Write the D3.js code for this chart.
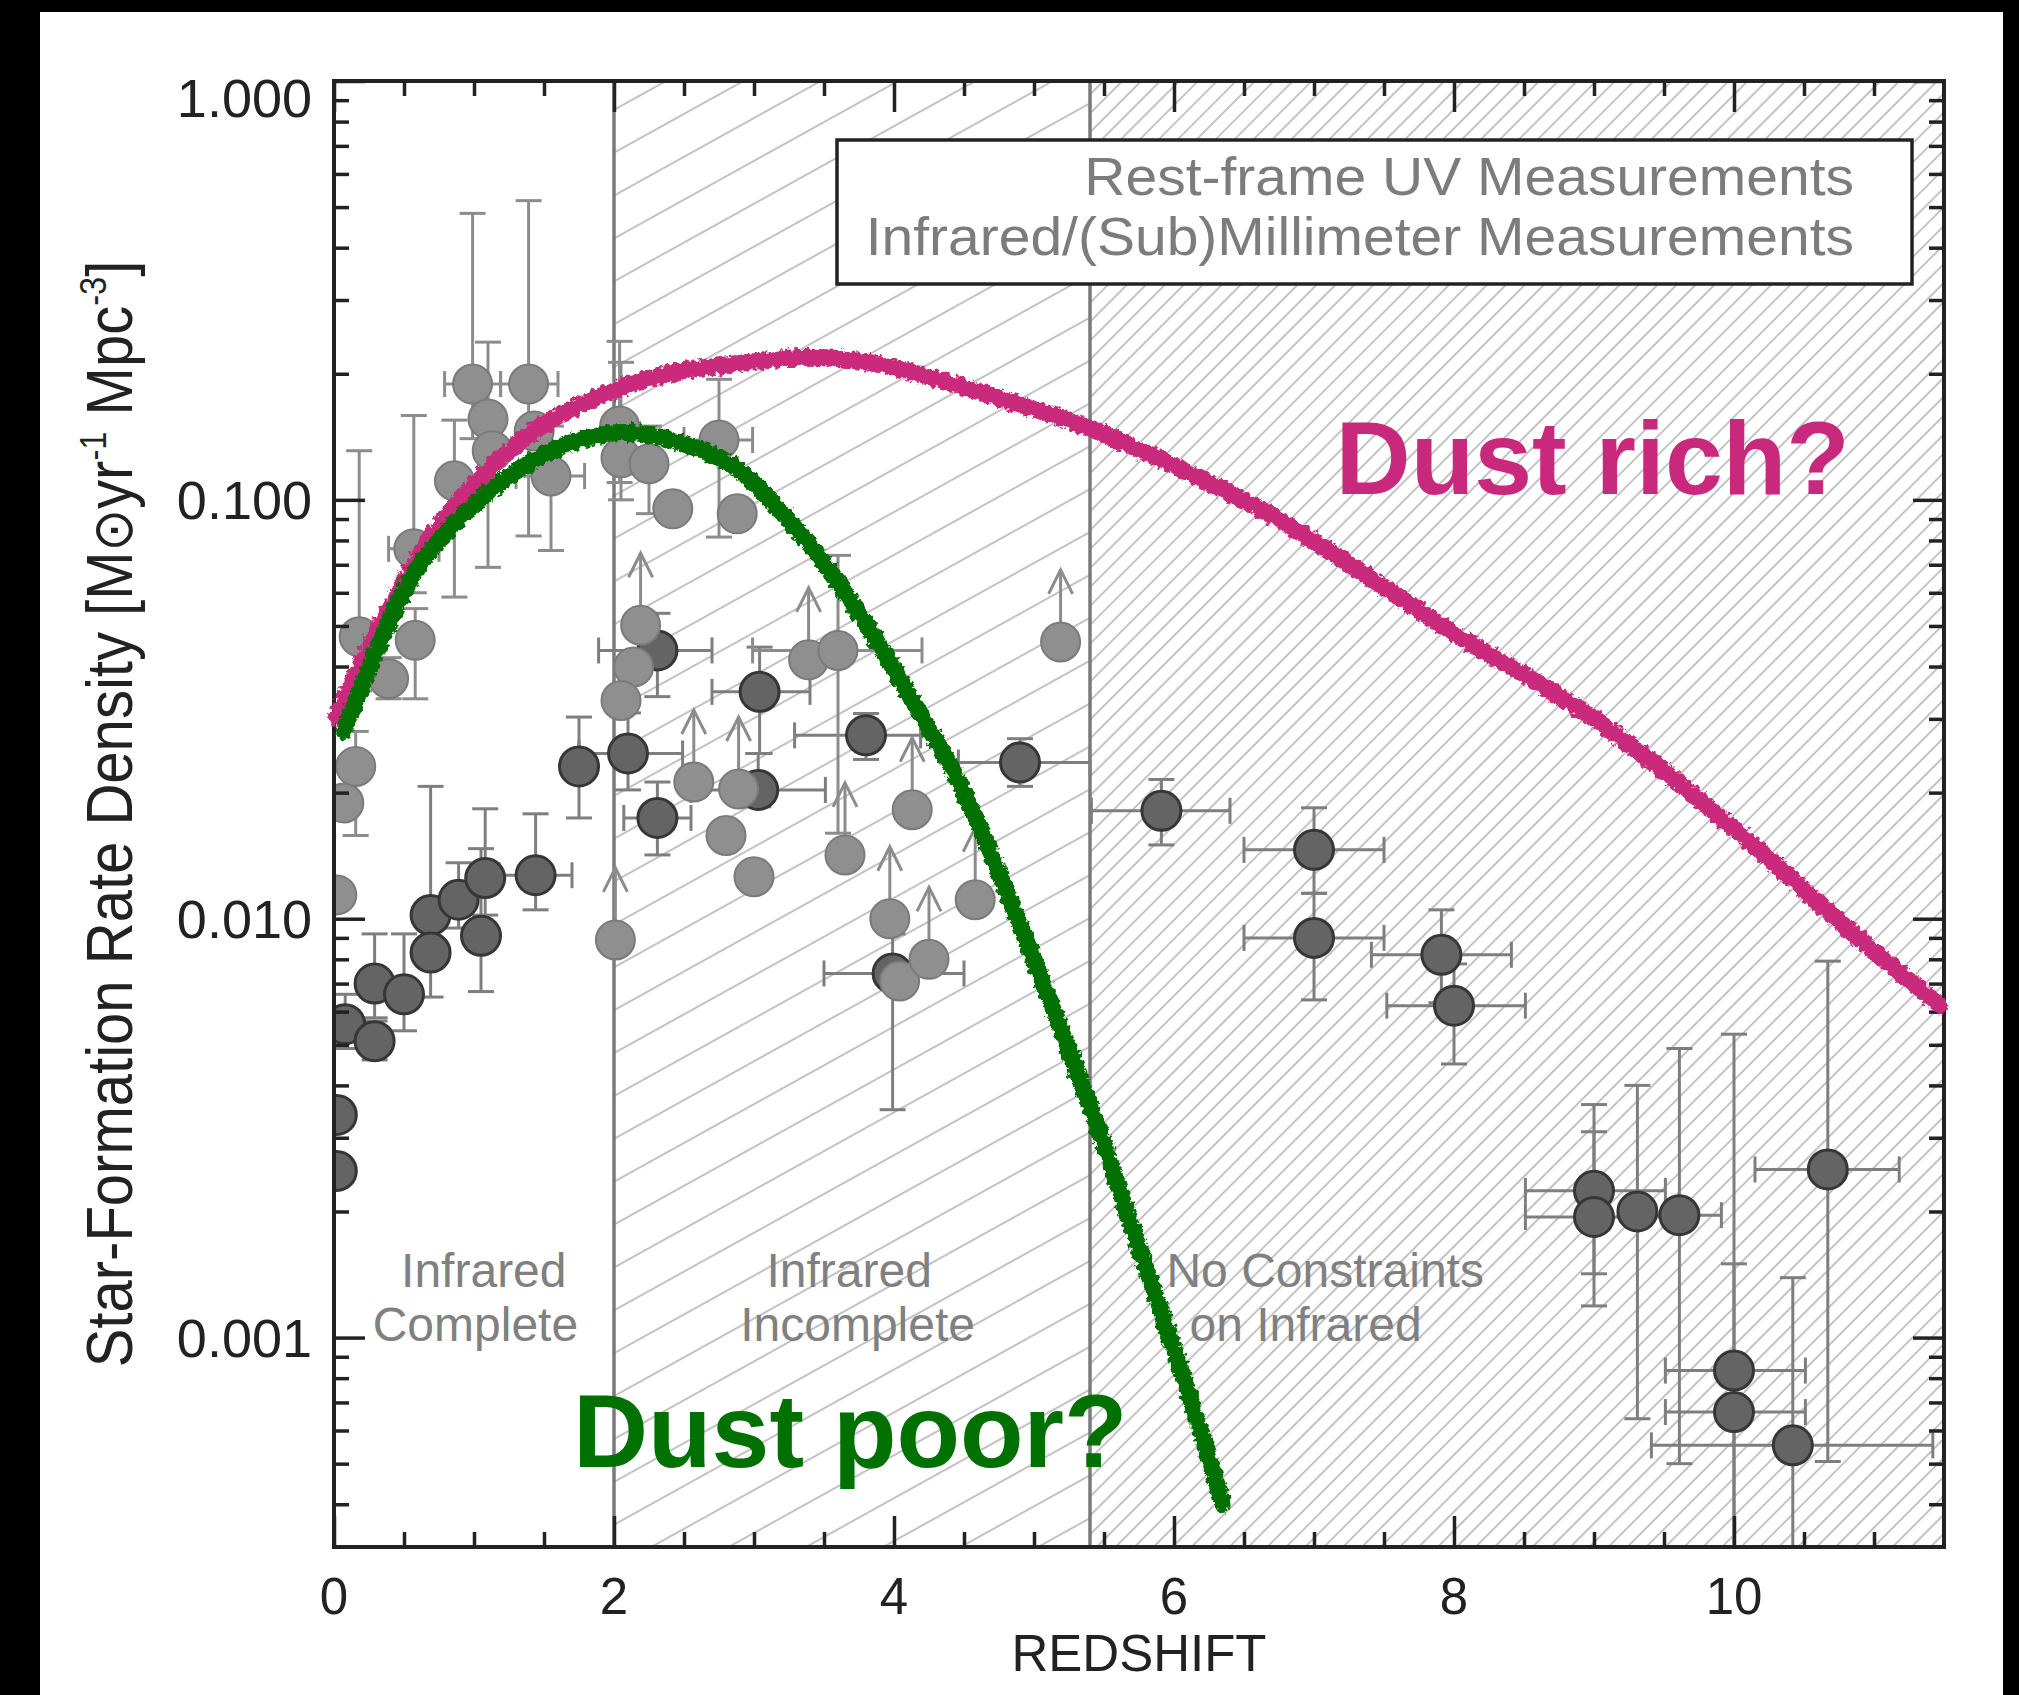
<!DOCTYPE html>
<html>
<head>
<meta charset="utf-8">
<script src="https://cdn.jsdelivr.net/npm/d3@7"></script>
<style>
  html, body { margin: 0; padding: 0; background: #fff; }
  svg { display: block; }
</style>
</head>
<body>
<svg id="chart" width="2019" height="1695"></svg>
<script>
// ---- Axis ticks -------------------------------------------------------
const xTicks = [0, 2, 4, 6, 8, 10];
const xTickLabels = ["0", "2", "4", "6", "8", "10"];
const yTicks = [0.001, 0.01, 0.1, 1];
const yTickLabels = ["0.001", "0.010", "0.100", "1.000"];

// Redshift boundaries of the infrared-coverage regimes
const regionEdges = [2, 5.4];

// Rest-frame UV measurements: [z, SFRD, zLo, zHi, SFRDlo, SFRDhi]
const uvPoints = [
  [0.02, 0.0034, null, null, null, null],
  [0.02, 0.0025, null, null, null, null],
  [0.08, 0.0056, null, null, 0.0049, 0.0066],
  [0.29, 0.0051, null, null, 0.0046, 0.0057],
  [0.29, 0.0070, null, null, 0.0058, 0.0092],
  [0.50, 0.0066, null, null, 0.0054, 0.0092],
  [0.69, 0.0102, null, null, 0.0085, 0.0207],
  [0.69, 0.0083, null, null, 0.0065, 0.0098],
  [0.89, 0.0111, null, null, 0.0095, 0.0136],
  [1.05, 0.0091, null, null, 0.0067, 0.0147],
  [1.08, 0.0125, null, null, 0.0102, 0.0183],
  [1.44, 0.0127, 1.18, 1.70, 0.0105, 0.0178],
  [1.75, 0.0231, null, null, 0.0174, 0.0303],
  [2.10, 0.0248, 1.75, 2.49, 0.0203, 0.0310],
  [2.31, 0.0174, 2.07, 2.55, 0.0142, 0.0212],
  [2.31, 0.0437, 1.89, 2.70, 0.0339, 0.0536],
  [3.04, 0.0348, 2.70, 3.40, 0.0248, 0.0445],
  [3.03, 0.0203, 2.55, 3.51, 0.0185, 0.0248],
  [3.80, 0.0274, 3.29, 4.19, 0.0240, 0.0309],
  [3.99, 0.0074, 3.50, 4.50, 0.0035, 0.0092],
  [4.90, 0.0236, 4.46, 5.40, 0.0207, 0.0269],
  [5.91, 0.0181, 5.41, 6.40, 0.0150, 0.0215],
  [7.00, 0.0146, 6.50, 7.50, 0.0115, 0.0184],
  [7.00, 0.0090, 6.50, 7.50, 0.0064, 0.0115],
  [7.91, 0.0082, 7.41, 8.41, 0.0063, 0.0105],
  [8.00, 0.0062, 7.52, 8.51, 0.0045, 0.0078],
  [9.00, 0.00224, 8.51, 9.51, 0.00142, 0.0036],
  [9.00, 0.00194, 8.51, 9.51, 0.00119, 0.0031],
  [9.31, 0.00200, null, null, 0.00064, 0.0040],
  [9.61, 0.00196, 9.30, 9.91, 0.00050, 0.0049],
  [10.00, 0.000834, 9.51, 10.51, 0.0002, 0.0053],
  [10.00, 0.000664, 9.51, 10.51, 0.0002, 0.0015],
  [10.42, 0.000553, 9.41, 11.42, 0.0002, 0.00139],
  [10.67, 0.00252, 10.15, 11.18, 0.000506, 0.00792]
];

// Infrared/(sub)millimeter measurements: [z, SFRD, zLo, zHi, SFRDlo, SFRDhi, lowerLimit]
const irPoints = [
  [0.02, 0.0114, null, null, null, null, 0],
  [0.07, 0.0189, null, null, null, null, 0],
  [0.155, 0.0231, null, null, 0.0158, 0.028, 0],
  [0.18, 0.0471, null, null, 0.035, 0.131, 0],
  [0.39, 0.0374, null, null, 0.0335, 0.042, 0],
  [0.57, 0.0764, 0.39, 0.75, 0.060, 0.159, 0],
  [0.58, 0.0462, null, null, 0.0335, 0.055, 0],
  [0.86, 0.111, null, null, 0.0586, 0.155, 0],
  [0.99, 0.189, 0.79, 1.19, 0.14, 0.483, 0],
  [1.10, 0.156, null, null, 0.069, 0.238, 0],
  [1.13, 0.131, null, null, null, null, 0],
  [1.39, 0.189, 1.19, 1.60, 0.082, 0.518, 0],
  [1.43, 0.146, null, null, null, null, 0],
  [1.55, 0.114, 1.30, 1.79, 0.0757, 0.150, 0],
  [2.04, 0.150, null, null, 0.110, 0.239, 0],
  [2.05, 0.126, null, null, 0.100, 0.213, 0],
  [2.25, 0.122, 2.00, 2.30, 0.0927, 0.150, 0],
  [2.42, 0.0952, null, null, null, null, 0],
  [2.75, 0.139, 2.50, 2.99, 0.0815, 0.194, 0],
  [2.88, 0.0926, null, null, null, null, 0],
  [2.19, 0.0502, null, null, null, null, 1],
  [2.14, 0.0399, null, null, null, null, 0],
  [2.05, 0.0332, null, null, null, null, 0],
  [3.39, 0.0415, null, null, null, null, 1],
  [3.60, 0.0437, 2.99, 4.20, 0.016, 0.0737, 0],
  [5.19, 0.0458, null, null, null, null, 1],
  [2.57, 0.0212, null, null, null, null, 1],
  [2.89, 0.0204, null, null, null, null, 1],
  [2.80, 0.0158, null, null, null, null, 0],
  [3.00, 0.0126, null, null, null, null, 0],
  [3.65, 0.0142, null, null, null, null, 1],
  [4.13, 0.0182, null, null, null, null, 1],
  [3.97, 0.0100, null, null, null, null, 1],
  [4.58, 0.0111, null, null, null, null, 1],
  [4.04, 0.0071, null, null, null, null, 0],
  [4.25, 0.0080, null, null, null, null, 1],
  [2.01, 0.0089, null, null, null, null, 1]
];

// Sketched star-formation histories: [z, SFRD]
const dustRichCurve = [
  [0.02, 0.0303], [0.24, 0.0437], [0.48, 0.062], [0.71, 0.083], [1.07, 0.115],
  [1.43, 0.146], [1.90, 0.177], [2.38, 0.200], [2.86, 0.211], [3.40, 0.219],
  [3.85, 0.212], [4.49, 0.186], [5.40, 0.148], [6.08, 0.117], [6.72, 0.091],
  [7.26, 0.070], [8.00, 0.048], [8.96, 0.0307], [9.91, 0.0174], [10.87, 0.0091],
  [11.47, 0.0062]
];
const dustPoorCurve = [
  [0.07, 0.028], [0.36, 0.048], [0.60, 0.069], [0.95, 0.094], [1.31, 0.1175],
  [1.67, 0.136], [2.10, 0.145], [2.50, 0.136], [2.86, 0.120], [3.19, 0.094],
  [3.45, 0.0744], [3.80, 0.0506], [4.16, 0.032], [4.47, 0.021], [4.71, 0.0138],
  [4.95, 0.0088], [5.41, 0.0035], [5.76, 0.0016], [6.08, 0.00078], [6.35, 0.0004]
];

// Regime labels, two lines each: [line, z of line centre]
const regionLabels = [
  [["Infrared", 1.07], ["Complete", 1.01]],
  [["Infrared", 3.68], ["Incomplete", 3.74]],
  [["No Constraints", 7.08], ["on Infrared", 6.94]]
];
const regionLabelBase = 0.00098;
const legendLabels = ["Rest-frame UV Measurements", "Infrared/(Sub)Millimeter Measurements"];

// ---- Layout ----------------------------------------------------------
const W = 2019, H = 1695;
const plot = { left: 334, right: 1944, top: 81, bottom: 1547 };
const AXIS = "#222";
const MAGENTA = "#c9297c", GREEN = "#007000";

const x = d3.scaleLinear().domain([0, 11.5]).range([plot.left, plot.right]);
const y = d3.scaleLog().domain([Math.pow(10, -3.5), 1]).range([plot.bottom, plot.top]);

const svg = d3.select("#chart");
svg.append("rect").attr("width", W).attr("height", H).attr("fill", "#fff");

const defs = svg.append("defs");
defs.append("clipPath").attr("id", "plotClip")
  .append("rect")
  .attr("x", plot.left).attr("y", plot.top)
  .attr("width", plot.right - plot.left).attr("height", plot.bottom - plot.top);

function hatch(id, angle, gap) {
  const p = defs.append("pattern").attr("id", id)
    .attr("patternUnits", "userSpaceOnUse")
    .attr("width", 40).attr("height", gap)
    .attr("patternTransform", `rotate(${-angle})`);
  p.append("line").attr("x1", 0).attr("x2", 40)
    .attr("y1", gap / 2).attr("y2", gap / 2)
    .attr("stroke", "#c2c2c2").attr("stroke-width", 2);
}
hatch("hatchMid", 29, 37.5);
hatch("hatchHigh", 45, 13.4);

// roughened marker-pen look for the sketched curves
const rough = defs.append("filter").attr("id", "rough")
  .attr("filterUnits", "userSpaceOnUse")
  .attr("x", 0).attr("y", 0).attr("width", W).attr("height", H);
rough.append("feTurbulence").attr("type", "fractalNoise")
  .attr("baseFrequency", 0.2).attr("numOctaves", 3).attr("seed", 5).attr("result", "noise");
rough.append("feDisplacementMap").attr("in", "SourceGraphic").attr("in2", "noise")
  .attr("scale", 9).attr("xChannelSelector", "R").attr("yChannelSelector", "G");

// ---- Hatched regimes and their boundaries ------------------------------
const regions = [
  { from: regionEdges[0], to: regionEdges[1], fill: "url(#hatchMid)" },
  { from: regionEdges[1], to: x.domain()[1], fill: "url(#hatchHigh)" }
];
svg.append("g").selectAll("rect").data(regions).join("rect")
  .attr("x", d => x(d.from)).attr("width", d => x(d.to) - x(d.from))
  .attr("y", plot.top).attr("height", plot.bottom - plot.top)
  .attr("fill", d => d.fill);

svg.append("g").selectAll("line").data(regionEdges).join("line")
  .attr("x1", d => x(d)).attr("x2", d => x(d))
  .attr("y1", plot.top).attr("y2", plot.bottom)
  .attr("stroke", "#7a7a7a").attr("stroke-width", 3.5);

// ---- Regime labels ----------------------------------------------------
const LABEL_SIZE = 48, LINE_GAP = 54;
svg.append("g").selectAll("text").data(regionLabels).join("text")
  .attr("text-anchor", "middle")
  .attr("font-family", "'Liberation Sans', Arial, sans-serif")
  .attr("font-size", LABEL_SIZE).attr("fill", "#808080")
  .each(function (lines) {
    const t = d3.select(this);
    lines.forEach((ln, i) => {
      t.append("tspan")
        .attr("x", x(ln[1]))
        .attr("y", y(regionLabelBase) - (lines.length - 1 - i) * LINE_GAP)
        .text(ln[0]);
    });
  });

// ---- Legend box -------------------------------------------------------
const legend = { right: plot.right - 32, top: plot.top + 59, width: 1075, height: 144 };
svg.append("rect")
  .attr("x", legend.right - legend.width).attr("y", legend.top)
  .attr("width", legend.width).attr("height", legend.height)
  .attr("fill", "#fff").attr("stroke", "#222").attr("stroke-width", 3.5);
const legendText = svg.append("g").selectAll("text").data(legendLabels).join("text")
  .attr("x", legend.right - 58)
  .attr("y", (d, i) => legend.top + 55 + i * 59.5)
  .attr("text-anchor", "end")
  .attr("font-family", "'Liberation Sans', Arial, sans-serif")
  .attr("font-size", 57).attr("fill", "#7c7c7c")
  .text(d => d);
// keep the wide set width while using a slightly shorter glyph height
legendText.each(function () {
  const w = this.getComputedTextLength();
  d3.select(this).attr("font-size", 53)
    .attr("textLength", w).attr("lengthAdjust", "spacingAndGlyphs");
});

// ---- Measurements -----------------------------------------------------
const dataG = svg.append("g").attr("clip-path", "url(#plotClip)");
const CAP = 13, R = 19.5;

function drawErrors(g, pts, color) {
  const eg = g.append("g").attr("stroke", color).attr("stroke-width", 3).attr("fill", "none");
  pts.forEach(p => {
    const [z, v, zl, zh, vl, vh] = p;
    if (vl != null && vh != null) {
      eg.append("line").attr("x1", x(z)).attr("x2", x(z)).attr("y1", y(vl)).attr("y2", y(vh));
      [vl, vh].forEach(e => eg.append("line")
        .attr("x1", x(z) - CAP).attr("x2", x(z) + CAP).attr("y1", y(e)).attr("y2", y(e)));
    }
    if (zl != null && zh != null) {
      eg.append("line").attr("x1", x(zl)).attr("x2", x(zh)).attr("y1", y(v)).attr("y2", y(v));
      [zl, zh].forEach(e => eg.append("line")
        .attr("x1", x(e)).attr("x2", x(e)).attr("y1", y(v) - CAP).attr("y2", y(v) + CAP));
    }
  });
}

function drawArrows(g, pts, color) {
  const ag = g.append("g").attr("stroke", color).attr("stroke-width", 3).attr("fill", "none");
  pts.filter(p => p[6]).forEach(p => {
    const cx = x(p[0]), cy = y(p[1]), tip = cy - 72;
    ag.append("line").attr("x1", cx).attr("x2", cx).attr("y1", cy).attr("y2", tip);
    ag.append("path").attr("d", `M${cx - 12},${tip + 24} L${cx},${tip} L${cx + 12},${tip + 24}`);
  });
}

drawErrors(dataG, uvPoints, "#7e7e7e");
drawErrors(dataG, irPoints, "#8c8c8c");
drawArrows(dataG, irPoints, "#8c8c8c");

dataG.append("g").selectAll("circle").data(uvPoints).join("circle")
  .attr("cx", d => x(d[0])).attr("cy", d => y(d[1])).attr("r", R)
  .attr("fill", "#646464").attr("stroke", "#363636").attr("stroke-width", 3);
dataG.append("g").selectAll("circle").data(irPoints).join("circle")
  .attr("cx", d => x(d[0])).attr("cy", d => y(d[1])).attr("r", R)
  .attr("fill", "#8f8f8f").attr("stroke", "#7a7a7a").attr("stroke-width", 2);

// ---- Axes (ticks mirrored on all four sides, pointing inward) ----------
const minorX = d3.range(0.5, 11.5, 0.5).filter(v => !xTicks.includes(v));
const minorY = [];
for (let k = -4; k <= -1; k++) {
  for (let m = 2; m <= 9; m++) {
    const v = m * Math.pow(10, k);
    if (v >= y.domain()[0] && v <= 1) minorY.push(v);
  }
}
const MAJ = 31, MIN = 15;

function styleAxis(g) {
  g.selectAll(".tick line").attr("stroke", AXIS).attr("stroke-width", 3.5);
  g.select(".domain").remove();
  g.selectAll("text").remove();
}
const axes = svg.append("g");
[
  [d3.axisBottom, plot.bottom],
  [d3.axisTop, plot.top]
].forEach(([mk, pos]) => {
  axes.append("g").attr("transform", `translate(0,${pos})`)
    .call(mk(x).tickValues(xTicks).tickSize(-MAJ).tickSizeOuter(0)).call(styleAxis);
  axes.append("g").attr("transform", `translate(0,${pos})`)
    .call(mk(x).tickValues(minorX).tickSize(-MIN).tickSizeOuter(0)).call(styleAxis);
});
[
  [d3.axisLeft, plot.left],
  [d3.axisRight, plot.right]
].forEach(([mk, pos]) => {
  axes.append("g").attr("transform", `translate(${pos},0)`)
    .call(mk(y).tickValues(yTicks).tickSize(-MAJ).tickSizeOuter(0)).call(styleAxis);
  axes.append("g").attr("transform", `translate(${pos},0)`)
    .call(mk(y).tickValues(minorY).tickSize(-MIN).tickSizeOuter(0)).call(styleAxis);
});
axes.append("rect")
  .attr("x", plot.left).attr("y", plot.top)
  .attr("width", plot.right - plot.left).attr("height", plot.bottom - plot.top)
  .attr("fill", "none").attr("stroke", AXIS).attr("stroke-width", 4);

// tick labels
svg.append("g").selectAll("text").data(xTicks).join("text")
  .attr("x", d => x(d)).attr("y", plot.bottom + 67)
  .attr("text-anchor", "middle")
  .attr("font-family", "'Liberation Sans', Arial, sans-serif")
  .attr("font-size", 51).attr("fill", AXIS)
  .text((d, i) => xTickLabels[i]);
svg.append("g").selectAll("text").data(yTicks).join("text")
  .attr("x", plot.left - 22)
  .attr("y", d => Math.max(y(d), plot.top + 17))
  .attr("dy", "0.36em")
  .attr("text-anchor", "end")
  .attr("font-family", "'Liberation Sans', Arial, sans-serif")
  .attr("font-size", 54).attr("fill", AXIS)
  .text((d, i) => yTickLabels[i]);

// axis titles
svg.append("text")
  .attr("x", (plot.left + plot.right) / 2).attr("y", plot.bottom + 124)
  .attr("text-anchor", "middle")
  .attr("font-family", "'Liberation Sans', Arial, sans-serif")
  .attr("font-size", 51).attr("fill", AXIS)
  .text("REDSHIFT");

const yTitle = svg.append("text")
  .attr("text-anchor", "middle")
  .attr("font-family", "'Liberation Sans', Arial, sans-serif")
  .attr("font-size", 64).attr("fill", AXIS);
yTitle.append("tspan").text("Star-Formation Rate Density [M");
yTitle.append("tspan").attr("font-family", "'DejaVu Sans', sans-serif").attr("font-size", 56).text("\u2299");
yTitle.append("tspan").text("yr");
yTitle.append("tspan").attr("font-size", 36).attr("dy", -26).text("-1");
yTitle.append("tspan").attr("dy", 26).text(" Mpc");
yTitle.append("tspan").attr("font-size", 36).attr("dy", -26).text("-3");
yTitle.append("tspan").attr("dy", 26).text("]");
const titleLen = yTitle.node().getComputedTextLength();
const titleSpan = 1107;
yTitle.attr("transform",
  `translate(132,${(plot.top + plot.bottom) / 2}) rotate(-90) scale(${titleSpan / titleLen},1)`);

// ---- Sketched scenarios ------------------------------------------------
const line = d3.line()
  .x(d => x(d[0])).y(d => y(d[1]))
  .curve(d3.curveCatmullRom.alpha(0.5));
const curves = svg.append("g").attr("filter", "url(#rough)");
curves.append("path").datum(dustRichCurve).attr("d", line)
  .attr("fill", "none").attr("stroke", MAGENTA).attr("stroke-width", 17)
  .attr("stroke-linecap", "round");
curves.append("path").datum(dustPoorCurve).attr("d", line)
  .attr("fill", "none").attr("stroke", GREEN).attr("stroke-width", 17)
  .attr("stroke-linecap", "round");

svg.append("text")
  .attr("x", x(7.154)).attr("y", y(0.1032))
  .attr("font-family", "'Liberation Sans', Arial, sans-serif")
  .attr("font-weight", "bold").attr("font-size", 104).attr("fill", MAGENTA)
  .text("Dust rich?");
svg.append("text")
  .attr("x", x(1.707)).attr("y", y(0.00049))
  .attr("font-family", "'Liberation Sans', Arial, sans-serif")
  .attr("font-weight", "bold").attr("font-size", 104).attr("fill", GREEN)
  .text("Dust poor?");

// ---- Black frame ------------------------------------------------------
const frame = svg.append("g").attr("fill", "#000");
frame.append("rect").attr("x", 0).attr("y", 0).attr("width", 40).attr("height", H);
frame.append("rect").attr("x", 0).attr("y", 0).attr("width", W).attr("height", 12);
frame.append("rect").attr("x", 2003).attr("y", 0).attr("width", W - 2003).attr("height", H);
</script>
</body>
</html>
